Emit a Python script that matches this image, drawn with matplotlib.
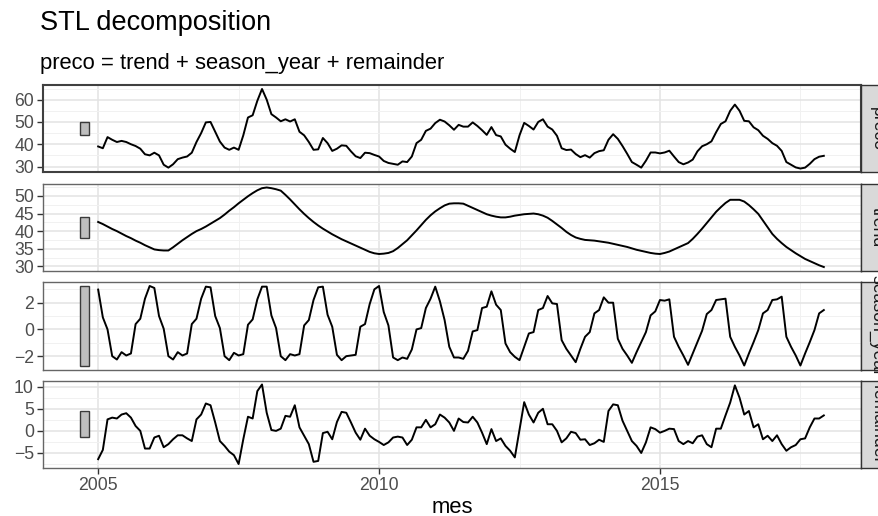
import numpy as np
import pandas as pd
import matplotlib
matplotlib.use("Agg")
import matplotlib.pyplot as plt
from matplotlib.patches import Rectangle
from matplotlib.ticker import MultipleLocator

plt.rcParams["font.family"] = ["Liberation Sans", "DejaVu Sans"]

# monthly series, Jan 2005 .. Dec 2017
mes = pd.period_range("2005-01", "2017-12", freq="M")

preco = [
    39.0, 38.2, 43.2, 42.0, 41.0, 41.5, 41.0, 40.0, 39.2, 38.0, 35.5, 35.0,
    36.2, 35.0, 30.8, 29.5, 31.0, 33.3, 34.0, 34.5, 36.2, 41.0, 45.0, 49.8,
    50.0, 45.6, 41.2, 38.5, 37.5, 38.5, 37.5, 44.0, 52.0, 53.0, 59.5, 64.8,
    60.0, 53.5, 52.0, 50.3, 51.2, 50.2, 51.2, 45.6, 44.0, 41.0, 37.5, 37.7,
    42.8, 40.5, 37.0, 38.0, 39.5, 39.3, 36.8, 34.6, 33.8, 36.2, 36.0, 35.2,
    34.5, 32.5, 31.6, 31.2, 30.8, 32.3, 32.0, 34.5, 40.5, 42.0, 46.0, 47.0,
    49.5, 51.0, 50.2, 48.5, 46.5, 48.7, 47.9, 47.9, 49.8, 48.2, 46.3, 44.2,
    47.7, 44.1, 43.5, 39.8, 38.0, 36.5, 44.0, 49.6, 48.2, 46.6, 50.0, 51.2,
    47.9, 46.6, 43.8, 38.2, 37.4, 37.6, 35.6, 34.2, 35.1, 34.0, 36.0, 36.9,
    37.3, 42.0, 44.5, 42.4, 39.2, 35.7, 32.0, 30.8, 29.5, 32.6, 36.3, 36.3,
    35.9, 36.3, 37.1, 34.5, 32.0, 31.0, 31.8, 33.1, 36.8, 39.1, 40.0, 41.3,
    45.4, 49.1, 50.3, 55.0, 57.8, 55.0, 50.5, 50.3, 47.6, 46.3, 43.8, 42.4,
    40.5, 39.3, 37.0, 32.0, 30.8, 29.6, 29.1, 29.5, 31.2, 33.3, 34.4, 34.8,
]

trend = [
    42.6, 42.0, 41.3, 40.6, 40.0, 39.3, 38.6, 38.0, 37.3, 36.7, 36.0, 35.4,
    34.8, 34.6, 34.5, 34.5, 35.4, 36.4, 37.4, 38.3, 39.2, 40.0, 40.6, 41.3,
    42.1, 42.9, 43.7, 44.7, 45.8, 46.8, 47.9, 48.9, 49.9, 50.8, 51.6, 52.2,
    52.4, 52.2, 51.9, 51.5, 50.3, 49.0, 47.6, 46.2, 44.9, 43.7, 42.6, 41.6,
    40.7, 39.9, 39.1, 38.4, 37.7, 37.1, 36.5, 35.9, 35.3, 34.7, 34.1, 33.7,
    33.5, 33.6, 33.8, 34.3, 35.2, 36.3, 37.4, 38.8, 40.2, 41.7, 43.2, 44.5,
    45.6, 46.5, 47.3, 47.8, 47.9, 47.9, 47.8, 47.2, 46.6, 46.0, 45.4, 44.8,
    44.4, 44.1, 43.9, 43.9, 44.1, 44.4, 44.6, 44.8, 44.9, 45.0, 44.8, 44.4,
    43.8, 42.9, 41.9, 40.9, 39.8, 38.9, 38.2, 37.8, 37.5, 37.4, 37.3, 37.1,
    36.9, 36.7, 36.4, 36.1, 35.8, 35.5, 35.1, 34.7, 34.4, 34.1, 33.8, 33.6,
    33.5, 33.8, 34.2, 34.8, 35.4, 36.0, 36.6, 37.8, 39.2, 40.7, 42.3, 43.9,
    45.5, 46.8, 48.0, 48.9, 48.9, 48.9, 48.4, 47.4, 46.2, 44.9, 43.0, 41.1,
    39.2, 37.8, 36.6, 35.5, 34.6, 33.7, 32.9, 32.1, 31.5, 30.9, 30.3, 29.8,
]

season_year = [
    2.98, 0.90, 0.00, -2.00, -2.25, -1.70, -1.95, -1.80, 0.40, 0.80, 2.30, 3.25,
    3.10, 1.00, 0.05, -2.00, -2.25, -1.70, -1.95, -1.80, 0.40, 0.80, 2.30, 3.20,
    3.15, 1.00, 0.10, -2.00, -2.30, -1.75, -1.95, -1.85, 0.35, 0.75, 2.25, 3.20,
    3.20, 1.05, 0.10, -2.00, -2.30, -1.85, -1.95, -1.85, 0.30, 0.70, 2.20, 3.15,
    3.20, 1.10, 0.20, -1.90, -2.30, -2.00, -1.95, -1.90, 0.20, 0.40, 1.90, 3.00,
    3.25, 1.30, 0.30, -2.10, -2.30, -2.10, -2.20, -1.50, 0.00, 0.10, 1.60, 2.30,
    3.20, 2.10, 0.70, -1.30, -2.10, -2.10, -2.20, -1.60, -0.15, -0.05, 1.60, 1.70,
    2.85, 1.85, 1.45, -1.05, -1.70, -2.05, -2.30, -1.30, -0.30, -0.20, 1.45, 1.60,
    2.50, 1.95, 1.90, -0.80, -1.45, -1.95, -2.45, -1.45, -0.55, -0.20, 1.20, 1.45,
    2.40, 2.00, 2.00, -0.70, -1.45, -1.95, -2.50, -1.70, -0.95, -0.20, 1.05, 1.35,
    2.20, 2.15, 2.25, -0.55, -1.30, -1.95, -2.65, -1.80, -0.95, -0.10, 1.15, 1.45,
    2.20, 2.25, 2.30, -0.55, -1.30, -1.95, -2.70, -1.80, -0.95, -0.05, 1.20, 1.45,
    2.20, 2.25, 2.45, -0.55, -1.30, -1.95, -2.70, -1.80, -0.95, -0.05, 1.20, 1.45,
]

remainder = [
    -6.4, -4.3, 2.6, 3.0, 2.8, 3.7, 4.0, 3.0, 1.1, 0.0, -4.0, -4.0,
    -1.5, -1.1, -3.7, -3.0, -1.9, -1.0, -1.0, -1.7, -2.3, 2.6, 3.7, 6.2,
    5.8, 1.9, -2.3, -3.4, -4.7, -5.5, -7.5, -1.9, 3.2, 2.8, 9.0, 10.5,
    4.1, 0.2, 0.0, 0.5, 3.4, 3.2, 5.8, 0.8, -1.1, -3.0, -7.0, -6.8,
    -0.5, -0.2, -1.9, 2.0, 4.3, 4.1, 1.9, -0.4, -2.0, 0.5, -1.1, -1.9,
    -2.5, -3.2, -2.6, -1.5, -1.3, -1.5, -3.2, -2.0, 0.8, 0.8, 2.5, 0.8,
    1.5, 3.7, 3.0, 1.9, 0.0, 2.8, 2.0, 1.9, 3.2, 1.9, -0.4, -3.0,
    0.4, -2.3, -1.7, -3.4, -4.5, -6.0, 0.3, 6.5, 3.7, 1.9, 4.1, 5.0,
    1.5, 1.5, 0.0, -2.6, -1.7, -0.2, -0.5, -2.0, -1.9, -3.2, -2.8, -2.0,
    -2.5, 4.5, 6.0, 5.8, 2.3, 0.0, -2.3, -3.4, -5.0, -2.6, 0.8, 0.4,
    -0.4, 0.0, 0.5, 0.4, -2.3, -3.0, -2.3, -2.8, -1.3, -1.0, -3.0, -3.7,
    0.5, 0.5, 3.5, 6.4, 10.3, 7.5, 3.7, 4.5, 0.8, 1.5, -1.9, -1.1,
    -2.3, -1.0, -3.0, -4.5, -3.7, -3.2, -1.9, -1.7, 0.8, 2.8, 2.8, 3.5,
]

components = ["preco", "trend", "season_year", "remainder"]
series = [preco, trend, season_year, remainder]
y_ticks = [[30, 40, 50, 60], [30, 35, 40, 45, 50], [-2, 0, 2], [-5, 0, 5, 10]]
x_ticks = [2005, 2010, 2015]

W, H = 879, 516


def px_box(left, top, width, height):
    """Pixel box (from the top-left corner) to a figure-fraction rect."""
    return [left / W, 1 - (top + height) / H, width / W, height / H]


x = np.asarray(mes.year + (mes.month - 1) / 12.0, dtype=float)

# scale bar: every panel gets a bar as tall as the smallest component range
bar_half = min(np.ptp(s) for s in series) / 2
bar_x0, bar_x1 = 2004.68, 2004.84

x_lo, x_hi = bar_x0, x[-1]
x_pad = 0.05 * (x_hi - x_lo)

fig = plt.figure(figsize=(W / 100, H / 100), dpi=100)

panel_tops = [85, 183.5, 282, 380.5]
panel_h = 87.5
panel_left, panel_right = 43, 861

for k, (name, values, ticks) in enumerate(zip(components, series, y_ticks)):
    values = np.asarray(values)
    top = panel_tops[k]
    ax = fig.add_axes(px_box(panel_left, top, panel_right - panel_left, panel_h))

    mid = (values.max() + values.min()) / 2
    ax.add_patch(Rectangle((bar_x0, mid - bar_half), bar_x1 - bar_x0, 2 * bar_half,
                           facecolor="#BEBEBE", edgecolor="#3a3a3a", lw=1.0, zorder=2))
    ax.plot(x, values, color="black", lw=1.4, zorder=3)

    lo, hi = min(values.min(), mid - bar_half), max(values.max(), mid + bar_half)
    pad = 0.05 * (hi - lo)
    ax.set_ylim(lo - pad, hi + pad)
    ax.set_xlim(x_lo - x_pad, x_hi + x_pad)

    step = ticks[1] - ticks[0]
    ax.set_yticks(ticks)
    ax.yaxis.set_minor_locator(MultipleLocator(step / 2))
    ax.set_xticks(x_ticks)
    ax.xaxis.set_minor_locator(MultipleLocator(2.5))

    ax.set_axisbelow(True)
    ax.grid(which="major", color="#E3E3E3", lw=1.1)
    ax.grid(which="minor", color="#F1F1F1", lw=0.7)

    edge = "#404040" if k == 0 else "#666666"
    for sp in ax.spines.values():
        sp.set_color(edge)
        sp.set_linewidth(1.5 if k == 0 else 1.0)

    ax.tick_params(axis="y", which="major", length=4, width=1, color="#333333",
                   labelsize=12.7, labelcolor="#4D4D4D", pad=2.5)
    ax.tick_params(which="minor", length=0)
    if k == len(components) - 1:
        ax.tick_params(axis="x", which="major", length=4, width=1, color="#333333",
                       labelsize=12.7, labelcolor="#4D4D4D", pad=2.5)
    else:
        ax.tick_params(axis="x", which="major", length=0, labelbottom=False)

    # facet strip on the right
    strip = fig.add_axes(px_box(panel_right, top, 32, panel_h))
    strip.set_facecolor("#D9D9D9")
    strip.set_xticks([])
    strip.set_yticks([])
    for sp in strip.spines.values():
        sp.set_color("#333333")
        sp.set_linewidth(1.0)
    strip.text(0.5, 0.5, name, rotation=-90, ha="center", va="center",
               fontsize=12.7, color="#1A1A1A", transform=strip.transAxes)

fig.text(40 / W, 1 - 30 / H, "STL decomposition", fontsize=19.5, va="baseline", ha="left")
fig.text(40 / W, 1 - 69 / H, "preco = trend + season_year + remainder",
         fontsize=15.8, va="baseline", ha="left")
fig.text((panel_left + panel_right) / 2 / W, 1 - 513 / H, "mes",
         fontsize=15.8, va="baseline", ha="center")

fig.savefig("out.png", dpi=100)
plt.close(fig)
